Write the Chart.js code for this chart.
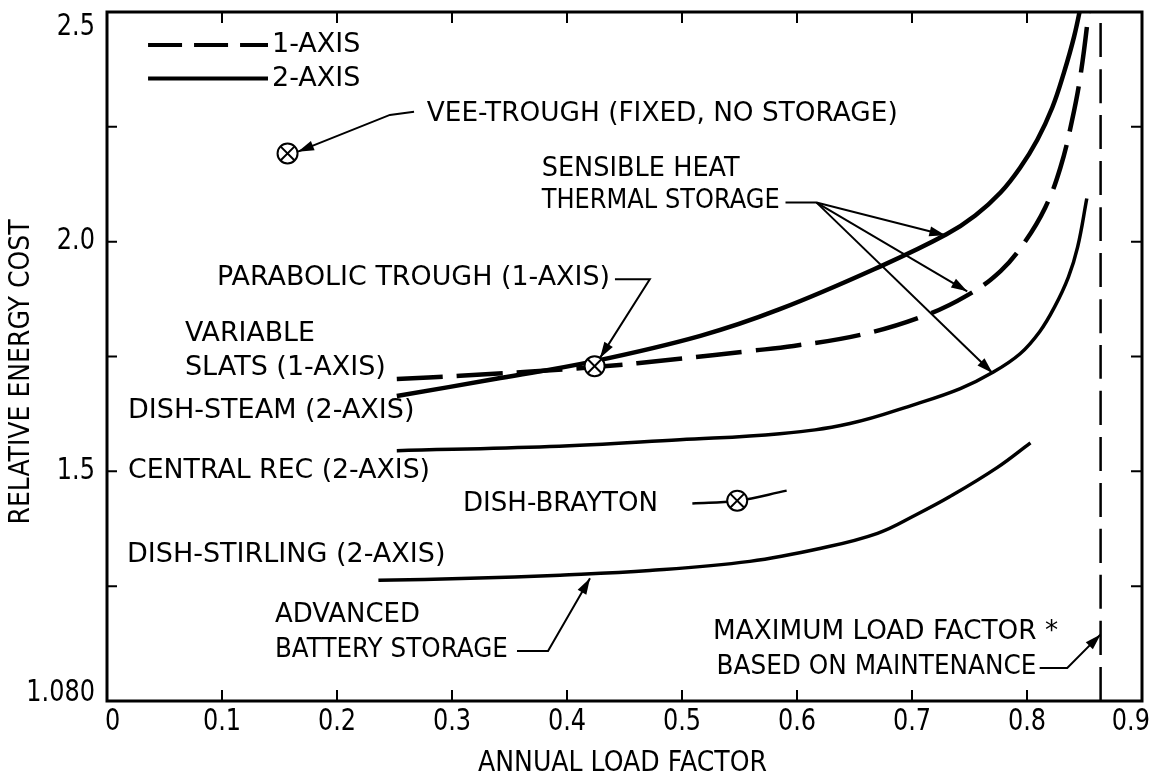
<!DOCTYPE html>
<html>
<head>
<meta charset="utf-8">
<title>Relative energy cost vs annual load factor</title>
<script src="https://cdn.jsdelivr.net/npm/chart.js@4.4.1/dist/chart.umd.min.js"></script>
<style>
  html, body { margin: 0; padding: 0; background: #fff; }
  #wrap { width: 1155px; height: 779px; }
</style>
</head>
<body>
<div id="wrap"><canvas id="costChart"></canvas></div>
<script>
// axis ticks
const xTickValues = [0, 0.1, 0.2, 0.3, 0.4, 0.5, 0.6, 0.7, 0.8, 0.9];
const xTickLabels = ["0", "0.1", "0.2", "0.3", "0.4", "0.5", "0.6", "0.7", "0.8", "0.9"];
const yTickValues = [1.0, 1.25, 1.5, 1.75, 2.0, 2.25, 2.5];
const yTickLabels = ["1.080", "", "1.5", "", "2.0", "", "2.5"];

// dish-steam, 2-axis with sensible heat storage (solid)
const steamLoad = [0.252, 0.342, 0.424, 0.516, 0.585, 0.675, 0.730, 0.755, 0.777, 0.794, 0.809, 0.822, 0.832, 0.841, 0.848];
const steamCost = [1.664, 1.703, 1.740, 1.795, 1.853, 1.949, 2.016, 2.057, 2.107, 2.161, 2.222, 2.292, 2.367, 2.447, 2.528];

// variable slats / parabolic trough, 1-axis (dashed)
const slatsLoad = [0.252, 0.307, 0.424, 0.498, 0.559, 0.597, 0.655, 0.710, 0.748, 0.777, 0.798, 0.816, 0.829, 0.839, 0.847, 0.855];
const slatsCost = [1.701, 1.708, 1.727, 1.745, 1.762, 1.773, 1.797, 1.838, 1.883, 1.936, 1.999, 2.075, 2.161, 2.262, 2.370, 2.528];

// central receiver, 2-axis (solid)
const centralLoad = [0.252, 0.385, 0.498, 0.585, 0.646, 0.704, 0.742, 0.770, 0.794, 0.811, 0.824, 0.836, 0.844, 0.852];
const centralCost = [1.545, 1.554, 1.569, 1.582, 1.604, 1.647, 1.680, 1.715, 1.756, 1.804, 1.858, 1.923, 1.988, 2.094];

// dish-Stirling, 2-axis with advanced battery storage (solid)
const stirlingLoad = [0.236, 0.316, 0.394, 0.472, 0.559, 0.620, 0.670, 0.704, 0.733, 0.774, 0.803];
const stirlingCost = [1.263, 1.267, 1.274, 1.284, 1.304, 1.332, 1.365, 1.406, 1.445, 1.508, 1.562];

// dish-Brayton short segment
const braytonLoad = [0.509, 0.548, 0.591];
const braytonCost = [1.430, 1.436, 1.458];

// single design points (circled crosses)
const pointLoad = [0.157, 0.424, 0.548];
const pointCost = [2.192, 1.729, 1.436];

// maintenance limit
const maxLoadFactor = 0.864;
const maxLimitCost = [1.0, 2.5];

const FONT = "'DejaVu Sans', 'Liberation Sans', sans-serif";

const pts = (xs, ys) => xs.map((x, i) => ({ x, y: ys[i] }));

// labels placed in data coordinates
const notes = [
  { text: "VEE-TROUGH (FIXED, NO STORAGE)", x: 0.278, y: 2.279, w: 471 },
  { text: "SENSIBLE HEAT", x: 0.378, y: 2.159, w: 198 },
  { text: "THERMAL STORAGE", x: 0.378, y: 2.088, w: 238 },
  { text: "PARABOLIC TROUGH (1-AXIS)", x: 0.0957, y: 1.920, w: 393 },
  { text: "VARIABLE", x: 0.0678, y: 1.799, w: 130 },
  { text: "SLATS (1-AXIS)", x: 0.0678, y: 1.725, w: 208 },
  { text: "DISH-STEAM (2-AXIS)", x: 0.0183, y: 1.632, w: 292 },
  { text: "CENTRAL REC (2-AXIS)", x: 0.0183, y: 1.5015, w: 302 },
  { text: "DISH-BRAYTON", x: 0.3096, y: 1.430, w: 195 },
  { text: "DISH-STIRLING (2-AXIS)", x: 0.0174, y: 1.317, w: 336 },
  { text: "ADVANCED", x: 0.146, y: 1.187, w: 145 },
  { text: "BATTERY STORAGE", x: 0.146, y: 1.111, w: 233 },
  { text: "MAXIMUM LOAD FACTOR *", x: 0.527, y: 1.150, w: 345 },
  { text: "BASED ON MAINTENANCE", x: 0.530, y: 1.074, w: 320 }
];

// leader lines, arrowhead at the last point
const leaders = [
  [[0.267, 2.283], [0.246, 2.276], [0.166, 2.196]],
  [[0.590, 2.085], [0.617, 2.085], [0.729, 2.014]],
  [[0.617, 2.085], [0.748, 1.892]],
  [[0.617, 2.085], [0.770, 1.714]],
  [[0.4417, 1.918], [0.472, 1.918], [0.4287, 1.747]],
  [[0.3565, 1.109], [0.3835, 1.109], [0.420, 1.267]],
  [[0.811, 1.072], [0.835, 1.072], [0.864, 1.145]]
];

function arrowHead(ctx, x0, y0, x1, y1) {
  const a = Math.atan2(y1 - y0, x1 - x0);
  const len = 16, half = 5;
  ctx.beginPath();
  ctx.moveTo(x1, y1);
  ctx.lineTo(x1 - len * Math.cos(a) + half * Math.sin(a), y1 - len * Math.sin(a) - half * Math.cos(a));
  ctx.lineTo(x1 - len * Math.cos(a) - half * Math.sin(a), y1 - len * Math.sin(a) + half * Math.cos(a));
  ctx.closePath();
  ctx.fill();
}

const paperPlugin = {
  id: "paper",
  afterDraw(chart) {
    const { ctx, chartArea: a, scales: { x, y } } = chart;
    ctx.save();
    ctx.strokeStyle = "#000";
    ctx.fillStyle = "#000";

    // frame
    ctx.lineWidth = 3;
    ctx.strokeRect(a.left, a.top, a.right - a.left, a.bottom - a.top);

    // inward ticks on all four sides
    ctx.lineWidth = 2;
    ctx.beginPath();
    xTickValues.forEach(v => {
      const px = x.getPixelForValue(v);
      ctx.moveTo(px, a.bottom); ctx.lineTo(px, a.bottom - 11);
      ctx.moveTo(px, a.top); ctx.lineTo(px, a.top + 11);
    });
    yTickValues.forEach(v => {
      const py = y.getPixelForValue(v);
      ctx.moveTo(a.left, py); ctx.lineTo(a.left + 10, py);
      ctx.moveTo(a.right, py); ctx.lineTo(a.right - 11, py);
    });
    ctx.stroke();

    // tick labels, narrow typewriter style
    ctx.font = "30px " + FONT;
    ctx.textBaseline = "middle";
    xTickValues.forEach((v, i) => {
      let px = x.getPixelForValue(v);
      let align = "center";
      if (i === 0) { align = "left"; px -= 2; }
      if (i === xTickValues.length - 1) { align = "right"; px += 8; }
      ctx.save();
      ctx.translate(px, a.bottom + 21);
      ctx.scale(0.8, 1);
      ctx.textAlign = align;
      ctx.fillText(xTickLabels[i], 0, 0);
      ctx.restore();
    });
    yTickValues.forEach((v, i) => {
      if (!yTickLabels[i]) return;
      const py = Math.max(a.top + 15, Math.min(a.bottom - 8, y.getPixelForValue(v)));
      ctx.save();
      ctx.translate(a.left - 12, py);
      ctx.scale(0.8, 1);
      ctx.textAlign = "right";
      ctx.fillText(yTickLabels[i], 0, 0);
      ctx.restore();
    });

    // axis titles
    ctx.font = "29px " + FONT;
    ctx.textAlign = "center";
    ctx.fillText("ANNUAL LOAD FACTOR", (a.left + a.right) / 2 - 2, a.bottom + 62, 289);
    ctx.save();
    ctx.translate(21, 372);
    ctx.rotate(-Math.PI / 2);
    ctx.fillText("RELATIVE ENERGY COST", 0, 0, 305);
    ctx.restore();

    // legend
    const lx0 = x.getPixelForValue(0.0357), lx1 = x.getPixelForValue(0.140);
    ctx.lineWidth = 4;
    ctx.setLineDash([34, 12]);
    ctx.beginPath();
    ctx.moveTo(lx0, y.getPixelForValue(2.428)); ctx.lineTo(lx1, y.getPixelForValue(2.428));
    ctx.stroke();
    ctx.setLineDash([]);
    ctx.beginPath();
    ctx.moveTo(lx0, y.getPixelForValue(2.355)); ctx.lineTo(lx1, y.getPixelForValue(2.355));
    ctx.stroke();
    ctx.font = "27px " + FONT;
    ctx.textAlign = "left";
    ctx.fillText("1-AXIS", x.getPixelForValue(0.1435), y.getPixelForValue(2.428));
    ctx.fillText("2-AXIS", x.getPixelForValue(0.1435), y.getPixelForValue(2.355));

    // annotations
    notes.forEach(n => {
      ctx.fillText(n.text, x.getPixelForValue(n.x), y.getPixelForValue(n.y), n.w);
    });

    // leader lines with arrowheads
    ctx.lineWidth = 2;
    leaders.forEach(path => {
      const p = path.map(([vx, vy]) => [x.getPixelForValue(vx), y.getPixelForValue(vy)]);
      ctx.beginPath();
      ctx.moveTo(p[0][0], p[0][1]);
      p.slice(1).forEach(q => ctx.lineTo(q[0], q[1]));
      ctx.stroke();
      const n = p.length;
      arrowHead(ctx, p[n - 2][0], p[n - 2][1], p[n - 1][0], p[n - 1][1]);
    });

    ctx.restore();
  }
};

const curve = (label, data, width, dash) => ({
  label,
  data,
  showLine: true,
  borderColor: "#000",
  borderWidth: width,
  borderDash: dash || [],
  pointRadius: 0,
  tension: 0.4,
  order: 2
});

new Chart(document.getElementById("costChart"), {
  type: "scatter",
  data: {
    datasets: [
      {
        label: "Design point",
        data: pts(pointLoad, pointCost),
        pointStyle: "crossRot",
        pointRadius: 10,
        borderColor: "#000",
        borderWidth: 2,
        order: 0
      },
      {
        label: "Design point ring",
        data: pts(pointLoad, pointCost),
        pointStyle: "circle",
        pointRadius: 10,
        backgroundColor: "#fff",
        borderColor: "#000",
        borderWidth: 2,
        order: 1
      },
      curve("Dish-steam (2-axis)", pts(steamLoad, steamCost), 4.5),
      curve("Variable slats (1-axis)", pts(slatsLoad, slatsCost), 4.5, [46, 14]),
      curve("Central rec (2-axis)", pts(centralLoad, centralCost), 3.5),
      curve("Dish-Stirling (2-axis)", pts(stirlingLoad, stirlingCost), 3.5),
      curve("Dish-Brayton", pts(braytonLoad, braytonCost), 2.5),
      curve("Maximum load factor", maxLimitCost.map(c => ({ x: maxLoadFactor, y: c })), 2.5, [34, 12])
    ]
  },
  options: {
    responsive: true,
    maintainAspectRatio: false,
    animation: false,
    layout: { padding: { left: 107, right: 13, top: 10, bottom: 78 } },
    plugins: {
      legend: { display: false },
      tooltip: { enabled: false }
    },
    scales: {
      x: { type: "linear", min: 0, max: 0.9, display: false },
      y: { type: "linear", min: 1.0, max: 2.5, display: false }
    }
  },
  plugins: [paperPlugin]
});
</script>
</body>
</html>
